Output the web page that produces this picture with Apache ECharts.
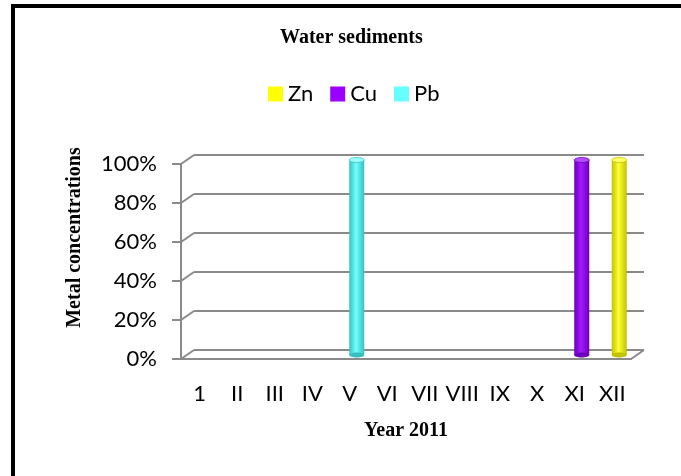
<!DOCTYPE html>
<html>
<head>
<meta charset="utf-8">
<script src="https://cdn.jsdelivr.net/npm/echarts@6/dist/echarts.min.js"></script>
<style>
  html, body { margin: 0; padding: 0; background: #fff; }
  #chart { width: 681px; height: 476px; }
</style>
</head>
<body>
<div id="chart"></div>
<script>
// months of 2011, as printed on the axis
const categories = ['1', 'II', 'III', 'IV', 'V', 'VI', 'VII', 'VIII', 'IX', 'X', 'XI', 'XII'];

// share of each metal per month (%)
const zn = [0, 0, 0, 0, 0, 0, 0, 0, 0, 0, 0, 100];
const cu = [0, 0, 0, 0, 0, 0, 0, 0, 0, 0, 100, 0];
const pb = [0, 0, 0, 0, 100, 0, 0, 0, 0, 0, 0, 0];

const yTicks = [0, 20, 40, 60, 80, 100];

const gray = '#8a8a8a';
const labelFont = 'Lato, "Noto Sans", sans-serif';
const serif = '"Liberation Serif", "DejaVu Serif", serif';

const chart = echarts.init(document.getElementById('chart'));

function cylinder(dark, light) {
    return new echarts.graphic.LinearGradient(0, 0, 1, 0, [
        { offset: 0, color: dark },
        { offset: 0.45, color: light },
        { offset: 1, color: dark }
    ]);
}

const metals = [
    { name: 'Zn', data: zn, base: '#ffff00', dark: '#c2c200', light: '#ffff33', cap: '#ffff66' },
    { name: 'Cu', data: cu, base: '#9900ff', dark: '#6d00bb', light: '#a21aff', cap: '#b44dff' },
    { name: 'Pb', data: pb, base: '#66ffff', dark: '#38c0c0', light: '#70ffff', cap: '#99ffff' }
];

// grid 0: front (axes), grid 1: bars (mid depth), grid 2: back wall
const barSeries = metals.map((m) => ({
    name: m.name,
    type: 'bar',
    xAxisIndex: 1,
    yAxisIndex: 1,
    stack: 'total',
    barWidth: 15,
    itemStyle: { color: cylinder(m.dark, m.light) },
    data: m.data
}));

// elliptical caps on top and bottom of each cylinder
const capSeries = metals.map((m) => ({
    name: m.name + '-cap',
    type: 'custom',
    xAxisIndex: 1,
    yAxisIndex: 1,
    silent: true,
    z: 3,
    data: m.data.map((v, i) => [i, v]),
    renderItem: (params, api) => {
        const v = api.value(1);
        if (!v) return null;
        const top = api.coord([api.value(0), v]);
        const bottom = api.coord([api.value(0), 0]);
        return {
            type: 'group',
            children: [
                { type: 'ellipse', shape: { cx: top[0], cy: top[1], rx: 7.5, ry: 2.5 },
                  style: { fill: m.cap, stroke: m.dark, lineWidth: 0.8 } },
                { type: 'ellipse', shape: { cx: bottom[0], cy: bottom[1], rx: 7.5, ry: 2.5 },
                  style: { fill: m.dark } }
            ]
        };
    }
}));

// diagonal edges joining the front axis to the back wall
const depthSeries = {
    type: 'custom',
    xAxisIndex: 0,
    yAxisIndex: 0,
    silent: true,
    z: 1,
    data: yTicks.map((v) => [0, v]),
    renderItem: (params, api) => {
        const cs = params.coordSys;
        const y = api.coord([0, api.value(1)])[1];
        const children = [{
            type: 'line',
            shape: { x1: cs.x, y1: y, x2: cs.x + 13, y2: y - 9 },
            style: { stroke: gray, lineWidth: 2 }
        }];
        if (api.value(1) === 0) {
            children.push({
                type: 'line',
                shape: { x1: cs.x + cs.width, y1: y, x2: cs.x + cs.width + 13, y2: y - 9 },
                style: { stroke: gray, lineWidth: 2 }
            });
        }
        return { type: 'group', children: children };
    }
};

const option = {
    animation: false,
    backgroundColor: '#fff',
    title: {
        text: 'Water sediments',
        left: 280,
        top: 28,
        padding: 0,
        textStyle: { fontFamily: serif, fontWeight: 'bold', fontSize: 20, color: '#000' }
    },
    legend: {
        data: metals.map((m) => ({ name: m.name, itemStyle: { color: m.base } })),
        left: 268,
        top: 83,
        padding: 0,
        icon: 'rect',
        itemWidth: 15,
        itemHeight: 15,
        itemGap: 17,
        textStyle: { fontFamily: labelFont, fontSize: 22, color: '#000' }
    },
    graphic: [{
        type: 'rect',
        shape: { x: 13, y: 6, width: 720, height: 520 },
        style: { fill: null, stroke: '#000', lineWidth: 4 },
        silent: true
    }],
    grid: [
        { left: 181, top: 164, width: 450, height: 195 },
        { left: 188, top: 160, width: 450, height: 195 },
        { left: 194, top: 155, width: 450, height: 195 }
    ],
    xAxis: [
        {
            gridIndex: 0,
            type: 'category',
            data: categories,
            axisLine: { lineStyle: { color: gray, width: 2 } },
            axisTick: { length: 8, lineStyle: { color: gray, width: 2 } },
            axisLabel: { margin: 24, fontFamily: labelFont, fontSize: 22, color: '#000', interval: 0 },
            name: 'Year 2011',
            nameLocation: 'middle',
            nameGap: 62,
            nameTextStyle: { fontFamily: serif, fontWeight: 'bold', fontSize: 20, color: '#000' }
        },
        { gridIndex: 1, type: 'category', data: categories, show: false },
        { gridIndex: 2, type: 'category', data: categories, show: false }
    ],
    yAxis: [
        {
            gridIndex: 0,
            type: 'value',
            min: 0,
            max: 100,
            interval: 20,
            axisLine: { show: true, lineStyle: { color: gray, width: 2 } },
            axisTick: { show: true, length: 9, lineStyle: { color: gray, width: 2 } },
            axisLabel: { margin: 24, formatter: '{value}%', fontFamily: labelFont, fontSize: 22, color: '#000' },
            splitLine: { show: false },
            name: 'Metal concentrations',
            nameLocation: 'middle',
            nameRotate: 90,
            nameGap: 96,
            nameTextStyle: { fontFamily: serif, fontWeight: 'bold', fontSize: 20, color: '#000', padding: [0, 0, 0, 48] }
        },
        {
            gridIndex: 1,
            type: 'value',
            min: 0,
            max: 100,
            interval: 20,
            show: false
        },
        {
            gridIndex: 2,
            type: 'value',
            min: 0,
            max: 100,
            interval: 20,
            axisLine: { show: false },
            axisTick: { show: false },
            axisLabel: { show: false },
            splitLine: { show: true, lineStyle: { color: gray, width: 2 } }
        }
    ],
    series: [depthSeries].concat(barSeries, capSeries)
};

chart.setOption(option);
</script>
</body>
</html>
